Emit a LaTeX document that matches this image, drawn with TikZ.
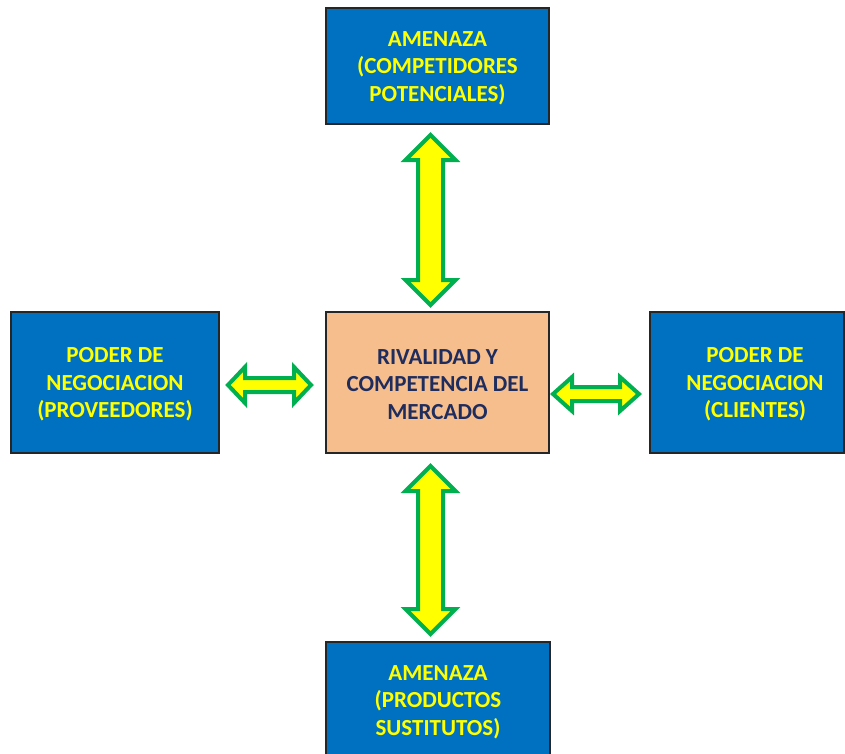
\documentclass[tikz,border=0pt]{standalone}
\usepackage{fontspec}
\setmainfont{Carlito}
\definecolor{boxblue}{HTML}{0070C0}
\definecolor{boxorange}{HTML}{F7BE8D}
\definecolor{txtyellow}{HTML}{FFFF00}
\definecolor{txtnavy}{HTML}{1F2D5E}
\definecolor{arrgreen}{HTML}{00B050}
\newcommand{\myvarrow}[6]{% cx, ytop, ybot, halfhead, halfshaft, headlen
  \draw[blockarrow] (#1,#2) -- ({#1+#4},{#2+#6}) -- ({#1+#5},{#2+#6}) -- ({#1+#5},{#3-#6}) -- ({#1+#4},{#3-#6}) -- (#1,#3)
    -- ({#1-#4},{#3-#6}) -- ({#1-#5},{#3-#6}) -- ({#1-#5},{#2+#6}) -- ({#1-#4},{#2+#6}) -- cycle;}
\newcommand{\myharrow}[6]{% cy, xleft, xright, halfhead, halfshaft, headlen
  \draw[blockarrow] (#2,#1) -- ({#2+#6},{#1-#4}) -- ({#2+#6},{#1-#5}) -- ({#3-#6},{#1-#5}) -- ({#3-#6},{#1-#4}) -- (#3,#1)
    -- ({#3-#6},{#1+#4}) -- ({#3-#6},{#1+#5}) -- ({#2+#6},{#1+#5}) -- ({#2+#6},{#1+#4}) -- cycle;}
\begin{document}
\begin{tikzpicture}[x=1pt,y=-1pt,
  boxbase/.style={draw=black!85, line width=1.3pt, inner sep=0pt},
  bluebox/.style={boxbase, fill=boxblue},
  orangebox/.style={boxbase, fill=boxorange},
  boxtext/.style={font=\bfseries\fontsize{23}{27.5}\selectfont, align=center, inner sep=0pt, yshift=-2pt},
  yellowtext/.style={boxtext, text=txtyellow},
  navytext/.style={boxtext, text=txtnavy},
  blockarrow/.style={draw=arrgreen, fill=txtyellow, line width=4pt, line join=miter}]
\useasboundingbox (0,0) rectangle (845,753);
\clip (0,0) rectangle (845,753);
\fill[white] (0,0) rectangle (845,753);

% boxes
\node[bluebox, minimum width=223pt, minimum height=116pt] (top) at (437.5,66) {};
\node[yellowtext] (toptext) at (437.5,66) {AMENAZA\\(COMPETIDORES\\POTENCIALES)};

\node[orangebox, minimum width=223pt, minimum height=141pt] (center) at (437.5,382.5) {};
\node[navytext] (centertext) at (437.5,382.5) {RIVALIDAD Y\\COMPETENCIA DEL\\MERCADO};

\node[bluebox, minimum width=208pt, minimum height=141pt] (left) at (115,382.5) {};
\node[yellowtext] (lefttext) at (115,382.5) {PODER DE\\NEGOCIACION\\(PROVEEDORES)};

\node[bluebox, minimum width=194pt, minimum height=141pt] (right) at (747,382.5) {};
\node[yellowtext] (righttext) at (755,382.5) {PODER DE\\NEGOCIACION\\(CLIENTES)};

\node[bluebox, minimum width=224pt, minimum height=116pt] (bottom) at (438,700) {};
\node[yellowtext] (bottomtext) at (438,700) {AMENAZA\\(PRODUCTOS\\SUSTITUTOS)};

% block arrows
\myvarrow{430.5}{135}{305}{25}{12.5}{25}
\myvarrow{430.5}{466}{634}{25}{12.5}{25}
\myharrow{385}{228}{311}{18}{7}{17}
\myharrow{394}{553}{639}{17}{7}{19}
\end{tikzpicture}
\end{document}
